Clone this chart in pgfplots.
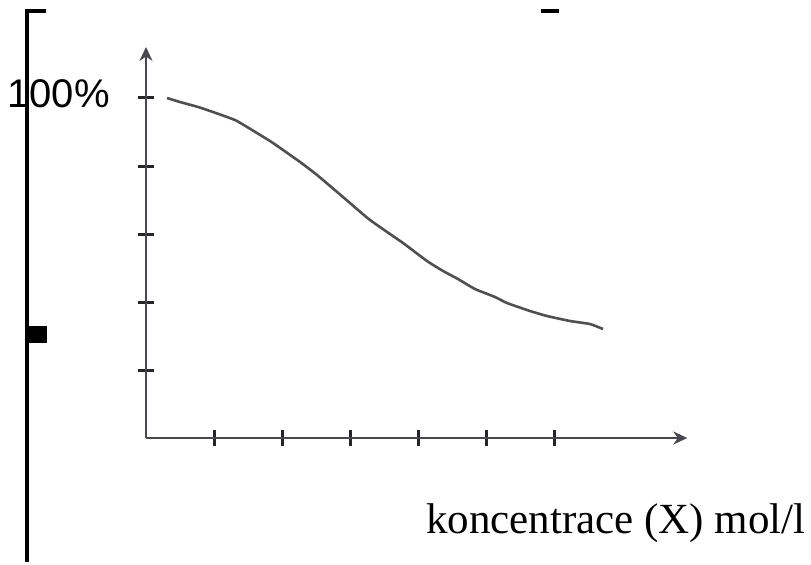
\documentclass[border=0pt]{standalone}
\usepackage{fontspec}
\setmainfont{Liberation Serif}
\newfontfamily\labelsans{Liberation Sans}
\usepackage{pgfplots}
\pgfplotsset{compat=1.18}
\usetikzlibrary{arrows.meta}
\definecolor{axgray}{HTML}{4A4650}
\definecolor{curvegray}{HTML}{505050}
\begin{document}
\begin{tikzpicture}
\begin{axis}[
  x=34pt, y=34pt,
  xmin=0, xmax=7.96, ymin=0, ymax=5.75,
  enlargelimits=false,
  axis lines=left,
  axis line style={axgray, line width=1.3pt, -{Stealth[length=7pt,width=6.5pt]}},
  xtick={1,2,3,4,5,6}, ytick={1,2,3,4,5},
  xticklabels={}, yticklabels={},
  tick align=center,
  major tick length=8pt,
  tick style={black!85, line width=1.5pt},
  clip=false,
]
\addplot[curvegray, line width=1.3pt, smooth, tension=0.3] coordinates {
(0.309,5.0) (0.5,4.941) (0.765,4.868) (0.985,4.794) (1.191,4.721)
(1.338,4.662) (1.632,4.485) (1.868,4.338) (2.265,4.059) (2.515,3.868)
(2.897,3.544) (3.294,3.206) (3.779,2.868) (4.132,2.603) (4.368,2.456)
(4.588,2.338) (4.838,2.191) (5.132,2.074) (5.309,1.985) (5.647,1.868)
(5.897,1.794) (6.235,1.721) (6.529,1.676) (6.721,1.603)
};
% page extent
\path (axis cs:-2.147,-1.8235) rectangle (axis cs:9.779,6.441);
% left decorations
\draw[black, line width=2pt] (axis cs:-1.75,6.294) -- (axis cs:-1.75,-1.8235);
\draw[black, line width=1.6pt] (axis cs:-1.779,6.279) -- (axis cs:-1.471,6.279);
\fill[black] (axis cs:-1.735,1.647) rectangle (axis cs:-1.456,1.397);
\draw[black, line width=2pt] (axis cs:5.809,6.279) -- (axis cs:6.074,6.279);
% labels
\node[anchor=east, inner sep=0pt, font=\labelsans\fontsize{20}{24}\selectfont] at (axis cs:-0.529,5.06) {100\%};
\node[anchor=base, inner sep=0pt, font=\fontsize{21.5}{26}\selectfont] at (axis cs:6.91,-1.397) {koncentrace (X) mol/l};
\end{axis}
\end{tikzpicture}
\end{document}
